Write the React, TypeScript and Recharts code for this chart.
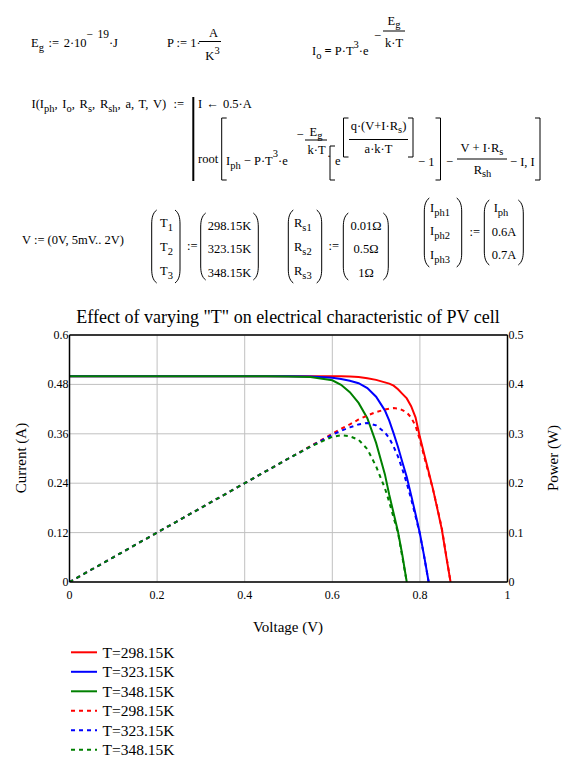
import React from 'react';
import { LineChart, Line, XAxis, YAxis, CartesianGrid, ReferenceLine } from 'recharts';

// ---- data ----
const voltage = [0, 0.1, 0.2, 0.3, 0.4, 0.45, 0.5, 0.55, 0.6, 0.62, 0.64, 0.66, 0.68, 0.7, 0.72, 0.73, 0.74, 0.75, 0.76, 0.77, 0.78, 0.79, 0.8, 0.81, 0.82, 0.83, 0.84, 0.85, 0.86, 0.87];
const currentT1 = [0.5, 0.5, 0.5, 0.5, 0.5, 0.5, 0.5, 0.5, 0.5, 0.5, 0.499, 0.498, 0.495, 0.491, 0.485, 0.482, 0.477, 0.468, 0.457, 0.446, 0.427, 0.4, 0.352, 0.31, 0.268, 0.225, 0.177, 0.128, 0.063, 0];
const currentT2 = [0.5, 0.5, 0.5, 0.5, 0.5, 0.5, 0.5, 0.499, 0.496, 0.493, 0.489, 0.483, 0.471, 0.45, 0.417, 0.392, 0.361, 0.328, 0.291, 0.255, 0.211, 0.165, 0.118, 0.061, 0];
const currentT3 = [0.5, 0.5, 0.5, 0.5, 0.5, 0.5, 0.499, 0.498, 0.49, 0.479, 0.461, 0.435, 0.398, 0.338, 0.262, 0.212, 0.167, 0.122, 0.065, 0];
const powerT1 = [0, 0.05, 0.1, 0.15, 0.2, 0.225, 0.25, 0.275, 0.3, 0.31, 0.319, 0.329, 0.337, 0.344, 0.349, 0.351, 0.352, 0.351, 0.348, 0.343, 0.333, 0.316, 0.288, 0.253, 0.22, 0.187, 0.149, 0.109, 0.054, 0];
const powerT2 = [0, 0.05, 0.1, 0.15, 0.2, 0.225, 0.25, 0.274, 0.298, 0.306, 0.313, 0.319, 0.322, 0.317, 0.303, 0.291, 0.274, 0.254, 0.228, 0.2, 0.168, 0.133, 0.097, 0.05, 0];
const powerT3 = [0, 0.05, 0.1, 0.15, 0.2, 0.225, 0.25, 0.274, 0.294, 0.297, 0.295, 0.288, 0.269, 0.234, 0.19, 0.162, 0.13, 0.1, 0.05, 0];

const seriesNames = ['T=298.15K', 'T=323.15K', 'T=348.15K'];
const seriesColors = ['#ff0000', '#0000ff', '#008000'];
const xTicks = [0, 0.2, 0.4, 0.6, 0.8, 1];
const currentTicks = [0, 0.12, 0.24, 0.36, 0.48, 0.6];
const powerTicks = [0, 0.1, 0.2, 0.3, 0.4, 0.5];

const chartTitle = 'Effect of varying "T" on electrical characteristic of PV cell';
const xLabel = 'Voltage (V)';
const leftLabel = 'Current (A)';
const rightLabel = 'Power (W)';

const data = voltage.map((v, k) => ({
  v,
  i1: currentT1[k] ?? null,
  i2: currentT2[k] ?? null,
  i3: currentT3[k] ?? null,
  p1: powerT1[k] ?? null,
  p2: powerT2[k] ?? null,
  p3: powerT3[k] ?? null,
}));

const FONT = '"Liberation Serif", "Times New Roman", serif';
const F = 12.5;
const FS = 10.5;
const DASH = '4 4';

const XTick = (p: any) => (
  <text x={p.x} y={p.y + 16.5} textAnchor="middle" fontSize={12} fontFamily={FONT} fill="#000">{p.payload.value}</text>
);
const LeftTick = (p: any) => (
  <text x={p.x - 1} y={p.y + 4} textAnchor="end" fontSize={12} fontFamily={FONT} fill="#000">{p.payload.value}</text>
);
const RightTick = (p: any) => (
  <text x={p.x + 1} y={p.y + 4} textAnchor="start" fontSize={12} fontFamily={FONT} fill="#000">{p.payload.value}</text>
);

const LB = ({ x, t, b }: { x: number; t: number; b: number }) => (
  <path d={`M${x + 5},${t} H${x} V${b} H${x + 5}`} fill="none" stroke="#000" strokeWidth={1} />
);
const RB = ({ x, t, b }: { x: number; t: number; b: number }) => (
  <path d={`M${x - 5},${t} H${x} V${b} H${x - 5}`} fill="none" stroke="#000" strokeWidth={1} />
);
const LP = ({ x, t, b }: { x: number; t: number; b: number }) => (
  <path d={`M${x + 5},${t} C${x + 1},${t + 3} ${x},${t + 8} ${x},${t + 14} L${x},${b - 14} C${x},${b - 8} ${x + 1},${b - 3} ${x + 5},${b}`} fill="none" stroke="#000" strokeWidth={1} />
);
const RP = ({ x, t, b }: { x: number; t: number; b: number }) => (
  <path d={`M${x - 5},${t} C${x - 1},${t + 3} ${x},${t + 8} ${x},${t + 14} L${x},${b - 14} C${x},${b - 8} ${x - 1},${b - 3} ${x - 5},${b}`} fill="none" stroke="#000" strokeWidth={1} />
);
const Bar = ({ x1, x2, y }: { x1: number; x2: number; y: number }) => (
  <line x1={x1} x2={x2} y1={y} y2={y} stroke="#000" strokeWidth={1} />
);

function Formulas() {
  return (
    <svg width={572} height={300} style={{ position: 'absolute', left: 0, top: 0 }} fontFamily={FONT} fontSize={F} fill="#000">
      {/* Eg */}
      <text x={31} y={47} wordSpacing={1.5}>E<tspan dy={4} fontSize={FS}>g</tspan><tspan dy={-4}>{' := 2·10'}</tspan><tspan dy={-9} fontSize={11.5}>{'− 19'}</tspan><tspan dy={9}>{'·J'}</tspan></text>
      {/* P */}
      <text x={167} y={47}>{'P := 1·'}</text>
      <text x={213.5} y={36.5} textAnchor="middle">A</text>
      <Bar x1={199} x2={221} y={41.5} />
      <text x={212.5} y={60} textAnchor="middle">K<tspan dy={-6} fontSize={FS}>3</tspan></text>
      {/* Io */}
      <text x={312} y={54.5}>I<tspan dy={4} fontSize={FS}>o</tspan><tspan dy={-4} fontWeight="bold">{' = '}</tspan><tspan>{'P·T'}</tspan><tspan dy={-7} fontSize={FS}>3</tspan><tspan dy={7}>{'·e'}</tspan></text>
      <text x={374} y={40}>−</text>
      <text x={394} y={24.5} textAnchor="middle">E<tspan dy={3} fontSize={FS}>g</tspan></text>
      <Bar x1={383} x2={405} y={31} />
      <text x={394} y={47} textAnchor="middle">k·T</text>

      {/* I(...) := program */}
      <text x={31.5} y={108} wordSpacing={1.6}>I(I<tspan dy={4} fontSize={FS}>ph</tspan><tspan dy={-4}>{', I'}</tspan><tspan dy={4} fontSize={FS}>o</tspan><tspan dy={-4}>{', R'}</tspan><tspan dy={4} fontSize={FS}>s</tspan><tspan dy={-4}>{', R'}</tspan><tspan dy={4} fontSize={FS}>sh</tspan><tspan dy={-4}>{', a, T, V)'}</tspan></text>
      <text x={173.5} y={108}>:=</text>
      <line x1={193.3} x2={193.3} y1={97} y2={181} stroke="#000" strokeWidth={2} />
      <text x={198} y={107.5} wordSpacing={1}>{'I ← 0.5·A'}</text>
      <text x={198} y={162.5}>root</text>
      <LB x={221.7} t={118} b={180} />
      <text x={226} y={165}>I<tspan dy={4} fontSize={FS}>ph</tspan><tspan dy={-4}>{' − P·T'}</tspan><tspan dy={-8} fontSize={FS}>3</tspan><tspan dy={8}>{'·e'}</tspan></text>
      <text x={296.5} y={139}>−</text>
      <text x={316} y={136} textAnchor="middle">E<tspan dy={3} fontSize={FS}>g</tspan></text>
      <Bar x1={305} x2={327} y={140} />
      <text x={316.5} y={153.5} textAnchor="middle">k·T</text>
      <text x={327} y={160}>·</text>
      <LB x={330} t={146} b={180} />
      <text x={335} y={165}>e</text>
      <LB x={343.5} t={118} b={157} />
      <text x={378.5} y={130} textAnchor="middle">{'q·(V+I·R'}<tspan dy={3} fontSize={FS}>s</tspan><tspan dy={-3}>)</tspan></text>
      <Bar x1={349} x2={408} y={139.5} />
      <text x={378.5} y={153} textAnchor="middle">a·k·T</text>
      <RB x={413} t={118} b={157} />
      <text x={418} y={166}>{'− 1'}</text>
      <RB x={440.5} t={118} b={180} />
      <text x={446} y={166}>−</text>
      <text x={482} y={152} textAnchor="middle">{'V + I·R'}<tspan dy={3} fontSize={FS}>s</tspan></text>
      <Bar x1={457} x2={507} y={159} />
      <text x={482.5} y={174} textAnchor="middle">R<tspan dy={3} fontSize={FS}>sh</tspan></text>
      <text x={510} y={166}>{'− I, I'}</text>
      <RB x={540} t={118} b={180} />

      {/* V range */}
      <text x={22} y={243.5}>{'V := (0V, 5mV.. 2V)'}</text>
      {/* T matrix */}
      <LP x={151.7} t={210} b={283} />
      <RP x={180} t={210} b={283} />
      <text x={160} y={227}>T<tspan dy={4} fontSize={FS}>1</tspan></text>
      <text x={160} y={251}>T<tspan dy={4} fontSize={FS}>2</tspan></text>
      <text x={160} y={275}>T<tspan dy={4} fontSize={FS}>3</tspan></text>
      <text x={187} y={250}>:=</text>
      <LP x={200.7} t={213} b={280} />
      <RP x={258.3} t={213} b={280} />
      <text x={229.5} y={229.5} textAnchor="middle">298.15K</text>
      <text x={229.5} y={253} textAnchor="middle">323.15K</text>
      <text x={229.5} y={276.5} textAnchor="middle">348.15K</text>
      {/* Rs matrix */}
      <LP x={288.3} t={210} b={283} />
      <RP x={321.7} t={210} b={283} />
      <text x={294} y={227}>R<tspan dy={4} fontSize={FS}>s1</tspan></text>
      <text x={294} y={251}>R<tspan dy={4} fontSize={FS}>s2</tspan></text>
      <text x={294} y={275}>R<tspan dy={4} fontSize={FS}>s3</tspan></text>
      <text x={328.5} y={250}>:=</text>
      <LP x={343.3} t={213} b={280} />
      <RP x={388.3} t={213} b={280} />
      <text x={366} y={229.5} textAnchor="middle">0.01Ω</text>
      <text x={366} y={253} textAnchor="middle">0.5Ω</text>
      <text x={366} y={276.5} textAnchor="middle">1Ω</text>
      {/* Iph matrix */}
      <LP x={424.3} t={198} b={267} />
      <RP x={461.7} t={198} b={267} />
      <text x={430} y={211.5}>I<tspan dy={4} fontSize={FS}>ph1</tspan></text>
      <text x={430} y={235}>I<tspan dy={4} fontSize={FS}>ph2</tspan></text>
      <text x={430} y={258.5}>I<tspan dy={4} fontSize={FS}>ph3</tspan></text>
      <text x={469.5} y={236}>:=</text>
      <LP x={484.3} t={200} b={265} />
      <RP x={523.3} t={200} b={265} />
      <text x={501} y={212} textAnchor="middle">I<tspan dy={4} fontSize={FS}>ph</tspan></text>
      <text x={504} y={235.5} textAnchor="middle">0.6A</text>
      <text x={504} y={259} textAnchor="middle">0.7A</text>
    </svg>
  );
}

function ChartTexts() {
  return (
    <svg width={572} height={770} style={{ position: 'absolute', left: 0, top: 0, pointerEvents: 'none' }} fontFamily={FONT} fill="#000">
      <text x={288} y={323} fontSize={18} textAnchor="middle">{chartTitle}</text>
      <text transform="translate(26,458) rotate(-90)" fontSize={15} textAnchor="middle">{leftLabel}</text>
      <text transform="translate(558,458) rotate(-90)" fontSize={15} textAnchor="middle">{rightLabel}</text>
      <text x={288} y={632} fontSize={15} textAnchor="middle">{xLabel}</text>
      {[0, 1].map((dashed) =>
        seriesNames.map((name, k) => {
          const row = dashed * 3 + k;
          const cy = 652.3 + row * 19.5;
          return (
            <g key={`${dashed}-${k}`}>
              <line x1={71} x2={97} y1={cy} y2={cy} stroke={seriesColors[k]} strokeWidth={2} strokeDasharray={dashed ? DASH : undefined} />
              <text x={102.5} y={cy + 5.5} fontSize={15.5}>{name}</text>
            </g>
          );
        })
      )}
    </svg>
  );
}

export default function App() {
  return (
    <div style={{ position: 'absolute', left: 0, top: 0, width: 572, height: 770, background: '#fff', overflow: 'hidden' }}>
      <Formulas />
      <div style={{ position: 'absolute', left: 0, top: 0 }}>
        <LineChart width={572} height={620} data={data} margin={{ top: 335, right: 4.5, bottom: 8, left: 9.5 }}>
          <CartesianGrid yAxisId="left" stroke="#c0c0c0" strokeWidth={1} />
          <XAxis dataKey="v" type="number" domain={[0, 1]} ticks={xTicks} height={30} tickSize={0} tickMargin={0} tick={(p: any) => <XTick {...p} />} axisLine={{ stroke: '#000', strokeWidth: 1.5 }} tickLine={false} interval={0} />
          <YAxis yAxisId="left" type="number" domain={[0, 0.6]} ticks={currentTicks} width={60} tickSize={0} tickMargin={0} tick={(p: any) => <LeftTick {...p} />} axisLine={{ stroke: '#000', strokeWidth: 1.5 }} tickLine={false} interval={0} allowDataOverflow />
          <YAxis yAxisId="right" orientation="right" type="number" domain={[0, 0.5]} ticks={powerTicks} width={60} tickSize={0} tickMargin={0} tick={(p: any) => <RightTick {...p} />} axisLine={{ stroke: '#000', strokeWidth: 1.5 }} tickLine={false} interval={0} allowDataOverflow />
          <ReferenceLine yAxisId="left" y={0.6} stroke="#000" strokeWidth={1.5} />
          <Line yAxisId="left" dataKey="i1" stroke={seriesColors[0]} strokeWidth={2} dot={false} isAnimationActive={false} />
          <Line yAxisId="left" dataKey="i2" stroke={seriesColors[1]} strokeWidth={2} dot={false} isAnimationActive={false} />
          <Line yAxisId="left" dataKey="i3" stroke={seriesColors[2]} strokeWidth={2} dot={false} isAnimationActive={false} />
          <Line yAxisId="right" dataKey="p1" stroke={seriesColors[0]} strokeWidth={2} strokeDasharray={DASH} dot={false} isAnimationActive={false} />
          <Line yAxisId="right" dataKey="p2" stroke={seriesColors[1]} strokeWidth={2} strokeDasharray={DASH} dot={false} isAnimationActive={false} />
          <Line yAxisId="right" dataKey="p3" stroke={seriesColors[2]} strokeWidth={2} strokeDasharray={DASH} dot={false} isAnimationActive={false} />
        </LineChart>
      </div>
      <ChartTexts />
    </div>
  );
}
